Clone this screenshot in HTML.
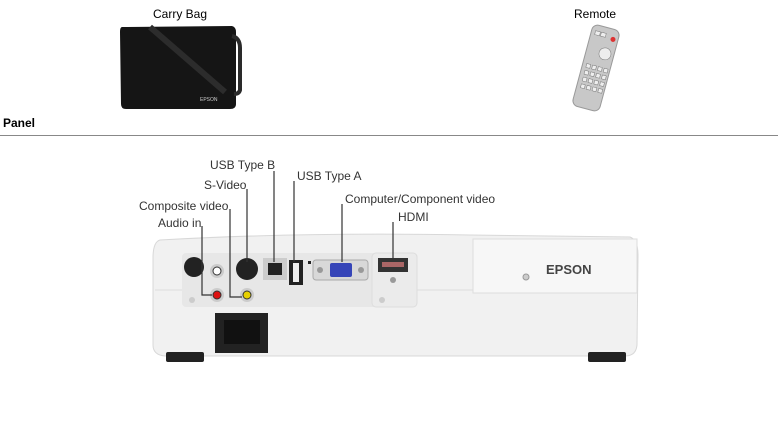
<!DOCTYPE html>
<html><head><style>
html,body{margin:0;padding:0;background:#fff;width:778px;height:426px;overflow:hidden;font-family:"Liberation Sans",Arial,sans-serif;}
.t{position:absolute;font-size:12px;color:#000;}
</style></head><body>
<div class="t" style="left:153px;top:7px;">Carry Bag</div>
<div class="t" style="left:574px;top:7px;">Remote</div>
<div class="t" style="left:3px;top:116px;font-weight:bold;">Panel</div>
<div style="position:absolute;left:0;top:135px;width:778px;height:1px;background:#888;"></div>
<svg width="778" height="426" style="position:absolute;left:0;top:0" xmlns="http://www.w3.org/2000/svg">
<!-- bag -->
<path d="M122,27 L232,26 Q236,27 236,32 L236,104 Q236,109 230,109 L126,109 Q121,109 121,104 L120,32 Q120,27 122,27Z" fill="#151515"/>
<path d="M232,36 Q240,38 240,48 L240,90 Q239,94 234,94" stroke="#2a2a2a" stroke-width="4" fill="none"/>
<path d="M150,27 L225,92" stroke="#2c2c2c" stroke-width="6"/>
<text x="200" y="101" font-size="5" fill="#ccc" font-family="Liberation Sans">EPSON</text>
<!-- remote -->
<g transform="rotate(15 596 68)">
<rect x="582" y="26" width="28" height="84" rx="6" fill="#c8c8c8" stroke="#999"/>
<g fill="#eee" stroke="#777" stroke-width="0.5">
<rect x="586" y="32" width="5" height="4"/><rect x="592" y="32" width="5" height="4"/>
<circle cx="601" cy="52" r="6"/>
<rect x="586" y="66" width="4" height="4"/><rect x="592" y="66" width="4" height="4"/><rect x="598" y="66" width="4" height="4"/><rect x="604" y="66" width="4" height="4"/>
<rect x="586" y="73" width="4" height="4"/><rect x="592" y="73" width="4" height="4"/><rect x="598" y="73" width="4" height="4"/><rect x="604" y="73" width="4" height="4"/>
<rect x="586" y="80" width="4" height="4"/><rect x="592" y="80" width="4" height="4"/><rect x="598" y="80" width="4" height="4"/><rect x="604" y="80" width="4" height="4"/>
<rect x="586" y="87" width="4" height="4"/><rect x="592" y="87" width="4" height="4"/><rect x="598" y="87" width="4" height="4"/><rect x="604" y="87" width="4" height="4"/>
</g>
<circle cx="605" cy="36" r="2.5" fill="#d33"/>
</g>
<!-- projector body -->
<path d="M160,240 Q300,232 470,235 L630,237 Q638,240 638,255 L637,345 Q636,356 625,356 L165,356 Q153,355 153,345 L153,258 Q153,242 160,240Z" fill="#f1f1f1" stroke="#d8d8d8"/>
<path d="M155,290 L637,290" stroke="#ddd"/>
<rect x="473" y="239" width="164" height="54" fill="#f7f7f7" stroke="#ddd"/>
<text x="546" y="274" font-size="13" font-weight="bold" fill="#444" font-family="Liberation Sans">EPSON</text>
<circle cx="526" cy="277" r="3" fill="#ccc" stroke="#999"/>
<rect x="182" y="253" width="235" height="54" rx="4" fill="#e7e7e7"/>
<rect x="372" y="253" width="45" height="54" rx="4" fill="#ebebeb" stroke="#ddd"/>
<rect x="215" y="313" width="53" height="40" fill="#222"/>
<rect x="224" y="320" width="36" height="24" fill="#111"/>
<rect x="166" y="352" width="38" height="10" rx="2" fill="#222"/>
<rect x="588" y="352" width="38" height="10" rx="2" fill="#222"/>
<!-- ports -->
<circle cx="194" cy="267" r="10" fill="#222"/>
<circle cx="217" cy="271" r="7" fill="#ccc"/><circle cx="217" cy="271" r="4" fill="#fff" stroke="#333"/>
<circle cx="217" cy="295" r="7" fill="#ccc"/><circle cx="217" cy="295" r="4" fill="#d11" stroke="#333"/>
<circle cx="247" cy="269" r="11" fill="#222"/>
<circle cx="247" cy="295" r="7" fill="#ccc"/><circle cx="247" cy="295" r="4" fill="#e6d000" stroke="#333"/>
<rect x="263" y="258" width="24" height="22" fill="#ccc"/><rect x="268" y="263" width="14" height="12" fill="#222"/>
<rect x="289" y="260" width="14" height="25" fill="#222"/><rect x="293" y="263" width="6" height="19" fill="#eee"/>
<rect x="308" y="261" width="3" height="3" fill="#222"/>
<rect x="313" y="260" width="55" height="20" rx="3" fill="#d8d8d8" stroke="#aaa"/>
<rect x="330" y="263" width="22" height="14" rx="2" fill="#3645b8"/>
<circle cx="320" cy="270" r="3" fill="#999"/><circle cx="361" cy="270" r="3" fill="#999"/>
<rect x="378" y="258" width="30" height="14" fill="#333"/><rect x="382" y="262" width="22" height="5" fill="#a66"/>
<circle cx="393" cy="280" r="3" fill="#999"/>
<circle cx="192" cy="300" r="3" fill="#ccc"/><circle cx="382" cy="300" r="3" fill="#ccc"/>
<!-- leaders -->
<g stroke="#333" stroke-width="1.2" fill="none">
<path d="M202,226 V295 H212"/>
<path d="M230,209 V297 H242"/>
<path d="M247,189 V262"/>
<path d="M274,171 V262"/>
<path d="M294,181 V262"/>
<path d="M342,204 V262"/>
<path d="M393,222 V260"/>
</g>
<g font-size="12" fill="#333" font-family="Liberation Sans">
<text x="210" y="169">USB Type B</text>
<text x="204" y="189">S-Video</text>
<text x="139" y="210">Composite video</text>
<text x="158" y="227">Audio in</text>
<text x="297" y="180">USB Type A</text>
<text x="345" y="203">Computer/Component video</text>
<text x="398" y="221">HDMI</text>
</g>
</svg>
</body></html>
